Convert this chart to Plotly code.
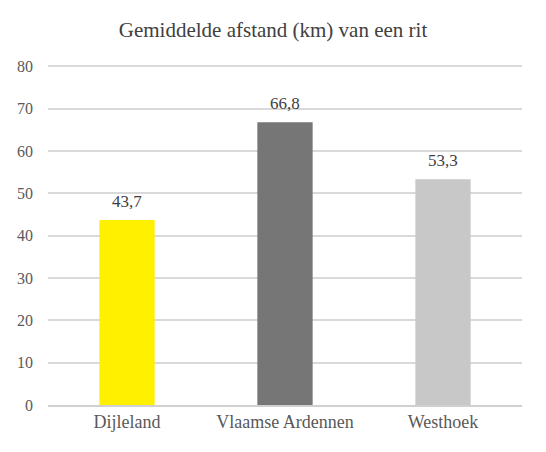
import plotly.graph_objects as go

categories = ["Dijleland", "Vlaamse Ardennen", "Westhoek"]
values = [43.7, 66.8, 53.3]
labels = ["43,7", "66,8", "53,3"]
colors = ["#FFF000", "#767676", "#C8C8C8"]
yticks = [0, 10, 20, 30, 40, 50, 60, 70, 80]

font = "'Times New Roman', 'Liberation Serif', 'DejaVu Serif', serif"
fig = go.Figure(go.Bar(
    x=categories, y=values,
    marker=dict(color=colors, line=dict(width=0)),
    width=0.35, hoverinfo="skip",
))
for c, v, t in zip(categories, values, labels):
    fig.add_annotation(x=c, y=v, text=t, showarrow=False, yanchor="bottom",
                       yshift=7, font=dict(family=font, size=17, color="#404040"))
fig.update_layout(
    width=546, height=452,
    margin=dict(l=48, r=24, t=62, b=47, autoexpand=False),
    paper_bgcolor="white", plot_bgcolor="white",
    title=dict(text="Gemiddelde afstand (km) van een rit", x=0.5, xanchor="center",
               y=1 - 30/452, yanchor="middle",
               font=dict(family=font, size=21, color="#404040")),
    font=dict(family=font, color="#595959"),
    showlegend=False,
    xaxis=dict(showline=True, linecolor="#D0D0D0", linewidth=1.5, automargin=False,
               tickfont=dict(family=font, size=18, color="#595959"),
               ticks="", fixedrange=True),
    yaxis=dict(range=[0, 81], tickvals=yticks, showgrid=True, gridcolor="#D9D9D9",
               gridwidth=1.5, zeroline=False, ticks="", automargin=False,
               tickfont=dict(family=font, size=16, color="#595959"),
               ticklabelstandoff=14, fixedrange=True),
)
fig.write_html("out.html", config={"displayModeBar": False},
               post_script="document.body.style.margin='0';")
